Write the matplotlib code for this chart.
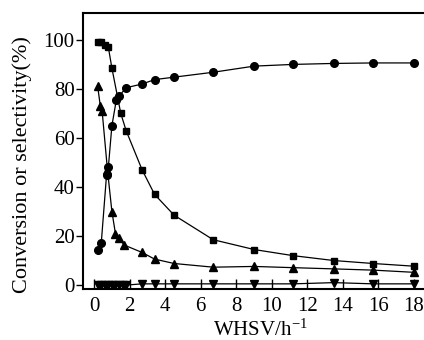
import matplotlib
matplotlib.use("Agg")
import matplotlib.pyplot as plt

x_conv = [0.2, 0.4, 0.6, 0.8, 1.0, 1.5, 1.8, 2.7, 3.4, 4.5, 6.7, 9.0, 11.2, 13.5, 15.7, 18.0]
conversion = [99, 99, 98, 97, 88.5, 70, 63, 47, 37, 28.5, 18.5, 14.5, 12, 10, 8.8, 7.7]

x_sel1 = [0.2, 0.4, 0.7, 0.8, 1.0, 1.25, 1.4, 1.8, 2.7, 3.4, 4.5, 6.7, 9.0, 11.2, 13.5, 15.7, 18.0]
sel1 = [14.5, 17, 45, 48, 65, 75.5, 77, 80.5, 82, 83.8, 84.8, 86.8, 89.3, 90, 90.4, 90.6, 90.6]

x_sel2 = [0.2, 0.35, 0.45, 0.75, 1.0, 1.2, 1.4, 1.7, 2.7, 3.4, 4.5, 6.7, 9.0, 11.2, 13.5, 15.7, 18.0]
sel2 = [81, 73, 71, 47, 30, 21, 19, 16.3, 13.3, 10.6, 8.8, 7.3, 7.6, 7.1, 6.6, 6.1, 5.2]

x_sel3 = [0.2, 0.4, 0.6, 0.8, 1.0, 1.2, 1.4, 1.6, 1.8, 2.7, 3.4, 4.5, 6.7, 9.0, 11.2, 13.5, 15.7, 18.0]
sel3 = [0, 0, 0, 0, 0, 0, 0, 0, 0, 0.5, 0.5, 0.5, 0.5, 0.5, 0.5, 1.0, 0.5, 0.5]

plt.rcParams['font.family'] = ['Liberation Serif', 'DejaVu Serif']
plt.rcParams['mathtext.fontset'] = 'stix'

fig = plt.figure(figsize=(4.24, 3.4), dpi=100)
ax = fig.add_axes([0.196, 0.15, 0.835, 0.812])

kw = dict(color='black', linewidth=0.9, clip_on=False)
ax.plot(x_conv, conversion, marker='s', markersize=4.5, **kw)
ax.plot(x_sel1, sel1, marker='o', markersize=5.5, **kw)
ax.plot(x_sel2, sel2, marker='^', markersize=5.5, **kw)
ax.plot(x_sel3, sel3, marker='v', markersize=5.5, **kw)

ax.set_xlim(-0.62, 19.3)
ax.set_ylim(-1.6, 111)
ax.set_xticks(range(0, 20, 2))
ax.set_yticks(range(0, 101, 20))

ax.tick_params(axis='x', direction='in', length=7, width=1, pad=6, labelsize=15)
ax.tick_params(axis='y', direction='out', length=5, width=1, pad=1, labelsize=15)
for s in ax.spines.values():
    s.set_linewidth(1.5)

ax.set_xlabel('WHSV/h$^{\\mathregular{-1}}$', fontsize=15, labelpad=2)
ax.set_ylabel('Conversion or selectivity(%)', fontsize=16)
ax.yaxis.set_label_coords(-0.145, 0.45)

fig.savefig('out.png', dpi=100)
